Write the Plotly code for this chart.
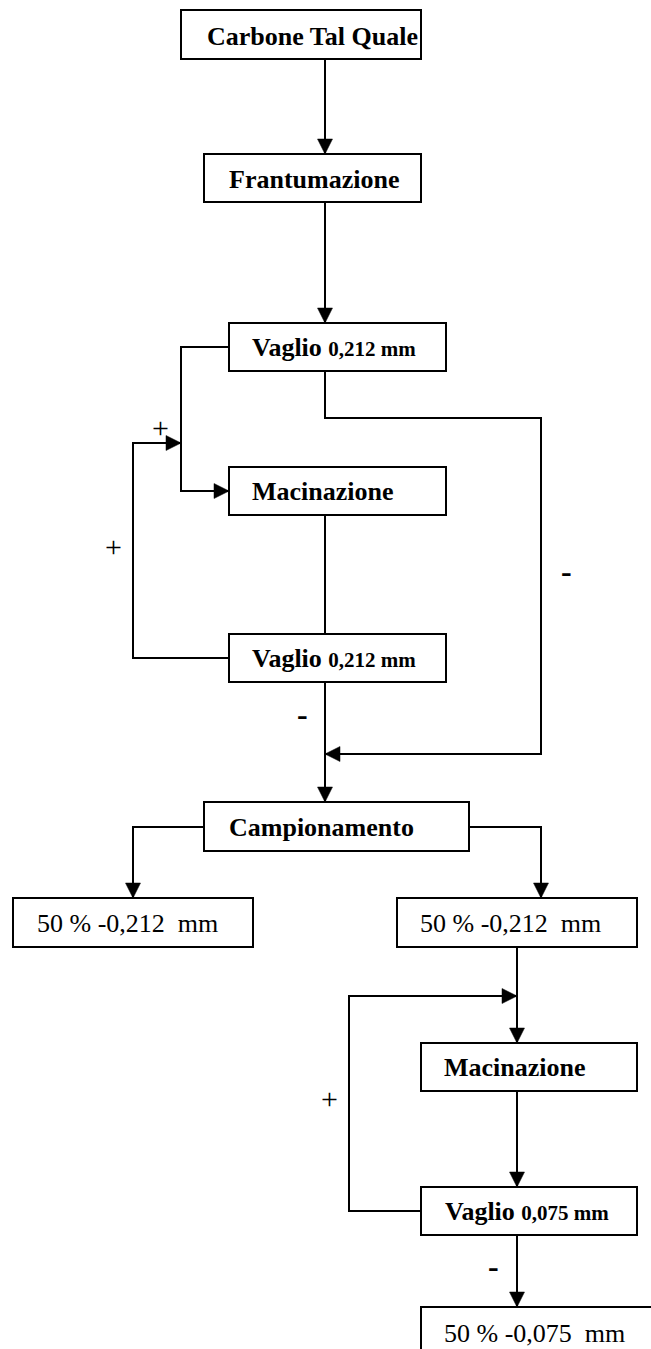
import plotly.graph_objects as go

# ---- nodes of the flow diagram ----
node_labels = [
    "<b>Carbone Tal Quale</b>",
    "<b>Frantumazione</b>",
    "<b>Vaglio <span style='font-size:21px'>0,212 mm</span></b>",
    "<b>Macinazione</b>",
    "<b>Vaglio <span style='font-size:21px'>0,212 mm</span></b>",
    "<b>Campionamento</b>",
    "50 % -0,212  mm",
    "50 % -0,212  mm",
    "<b>Macinazione</b>",
    "<b>Vaglio <span style='font-size:21px'>0,075 mm</span></b>",
    "50 % -0,075  mm",
]
node_x0 = [181, 204, 229, 229, 229, 204, 13, 397, 421, 421, 421]
node_x1 = [421, 421, 446, 446, 446, 469, 253, 637, 637, 637, 660]
node_y0 = [10, 154, 323, 467, 634, 802, 898, 898, 1043, 1187, 1307]
node_y1 = [59, 202, 371, 515, 682, 851, 947, 947, 1091, 1235, 1362]
text_x = [205, 227, 250, 250, 250, 227, 35, 418, 442, 443, 442]
text_y = [36, 179, 347, 491, 658, 827, 923, 923, 1067, 1211, 1333]

# ---- connectors (polyline x / y, arrow at end?) ----
edge_x = [
    [325, 325],
    [325, 325],
    [229, 181, 181, 229],
    [229, 133, 133, 181],
    [325, 325, 541, 541, 325],
    [325, 325],
    [325, 325],
    [204, 133, 133],
    [469, 541, 541],
    [517, 517],
    [421, 349, 349, 517],
    [517, 517],
    [517, 517],
]
edge_y = [
    [59, 154],
    [202, 323],
    [347, 347, 491, 491],
    [658, 658, 443, 443],
    [371, 418, 418, 754, 754],
    [515, 634],
    [682, 802],
    [827, 827, 898],
    [827, 827, 898],
    [947, 1043],
    [1211, 1211, 996, 996],
    [1091, 1187],
    [1235, 1307],
]
edge_arrow = [True, True, True, True, True, False, True, True, True, True, True, True, True]

# ---- branch signs ----
sign_text = ["+", "+", "<b>-</b>", "<b>-</b>", "+", "<b>-</b>"]
sign_x = [160, 113, 566, 302, 329, 493]
sign_y = [427, 546, 571, 714, 1098, 1266]

W, H = 651, 1349
LW = 2
AL, AW = 15, 7.5  # arrowhead length / half width
FONT = "Liberation Serif, Times New Roman, serif"

fig = go.Figure()
shapes = []
annotations = []

for i in range(len(node_labels)):
    shapes.append(dict(type="rect", xref="x", yref="y",
                       x0=node_x0[i], x1=node_x1[i], y0=node_y0[i], y1=node_y1[i],
                       line=dict(color="black", width=LW), fillcolor="white", layer="above"))
    annotations.append(dict(x=text_x[i], y=text_y[i], xref="x", yref="y",
                            text=node_labels[i], showarrow=False,
                            xanchor="left", yanchor="middle",
                            font=dict(family=FONT, size=26, color="black")))

for xs, ys, arr in zip(edge_x, edge_y, edge_arrow):
    fig.add_trace(go.Scatter(x=xs, y=ys, mode="lines",
                             line=dict(color="black", width=LW),
                             hoverinfo="skip", showlegend=False))
    if arr:
        tx, ty = xs[-1], ys[-1]
        px, py = xs[-2], ys[-2]
        dx = 0 if tx == px else (1 if tx > px else -1)
        dy = 0 if ty == py else (1 if ty > py else -1)
        bx, by = tx - dx * AL, ty - dy * AL
        qx, qy = -dy * AW, dx * AW
        path = f"M {tx},{ty} L {bx + qx},{by + qy} L {bx - qx},{by - qy} Z"
        shapes.append(dict(type="path", xref="x", yref="y", path=path,
                           fillcolor="black", line=dict(color="black", width=0.5),
                           layer="above"))

for t, x, y in zip(sign_text, sign_x, sign_y):
    big = 32 if "<b>" in t else 30
    annotations.append(dict(x=x, y=y, xref="x", yref="y", text=t, showarrow=False,
                            xanchor="center", yanchor="middle",
                            font=dict(family=FONT, size=big, color="black")))

fig.update_layout(
    width=W, height=H,
    margin=dict(l=0, r=0, t=0, b=0),
    paper_bgcolor="white", plot_bgcolor="white",
    xaxis=dict(range=[0, W], visible=False, fixedrange=True),
    yaxis=dict(range=[H, 0], visible=False, fixedrange=True),
    shapes=shapes, annotations=annotations,
    showlegend=False,
)

fig.write_html("out.html",
               config={"displayModeBar": False, "staticPlot": True},
               post_script="document.body.style.margin='0';document.body.style.overflow='hidden';")
